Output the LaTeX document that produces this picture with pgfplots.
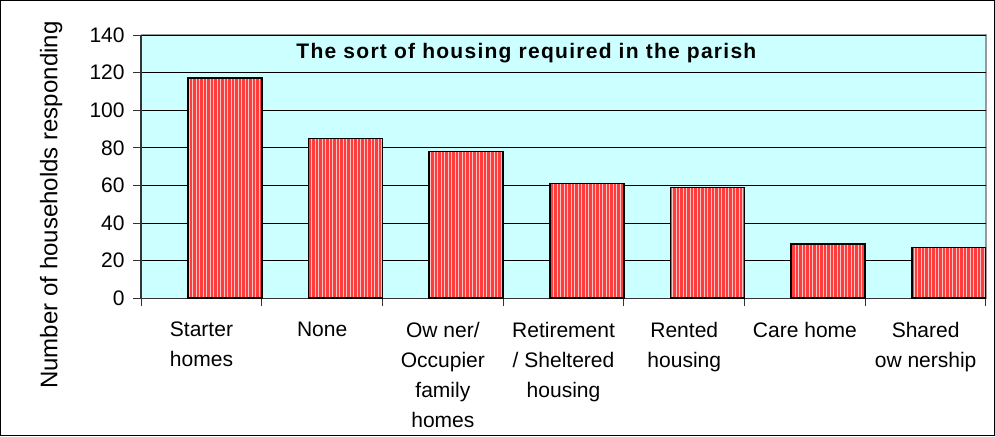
\documentclass[border=0pt]{standalone}
\usepackage{fontspec}
\setmainfont{Liberation Sans}
\usepackage{pgfplots}
\pgfplotsset{compat=1.18}
\usetikzlibrary{patterns.meta}
\definecolor{plotbg}{HTML}{CCFFFF}
\definecolor{barfill}{HTML}{FF3C3C}
\definecolor{stripe}{HTML}{FFC4C4}
\definecolor{frameg}{HTML}{999999}

\begin{document}
\begin{tikzpicture}
\begin{axis}[
    at={(0,0)}, anchor=south west,
    scale only axis, width=844pt, height=263pt,
    xmin=-0.5, xmax=6.5, ymin=0, ymax=140,
    axis lines=left,
    axis line style={-, line width=1.3pt, black!80},
    axis background/.style={fill=plotbg, draw=frameg, line width=1.2pt},
    ymajorgrids, grid style={black, line width=0.9pt},
    ytick={0,20,...,140},
    xtick={0,...,6},
    major x tick style={draw=none},
    minor xtick={-0.5,0.5,...,6.5},
    tick align=outside,
    major tick length=8pt, minor tick length=8pt,
    every tick/.style={black!80, line width=1pt},
    xticklabels={Starter\\homes, None, Ow ner/\\Occupier\\family\\homes,
      Retirement\\/ Sheltered\\housing, Rented\\housing, Care home,
      Shared\\ow nership},
    ticklabel style={font=\fontsize{21}{30}\selectfont},
    /pgf/number format/assume math mode=true,
    xticklabel style={align=center, yshift=-12pt},
    yticklabel style={xshift=-5pt},
    ylabel={Number of households responding},
    ylabel style={at={(axis description cs:-0.1066,0.354)}, anchor=center,
      font=\fontsize{24}{28}\selectfont},
  ]
  % bars sit against the right-hand edge of each category
  \addplot[ybar, bar width=0.614, bar shift=0.193, draw=black, line width=1.6pt,
    fill=barfill,
    postaction={pattern={Lines[angle=90, distance=3.5pt, line width=1pt]},
      pattern color=stripe}]
    coordinates {(0,117) (1,85) (2,78) (3,61) (4,59) (5,29) (6,27)};
  \node[font=\fontsize{21}{25}\selectfont\bfseries, anchor=center]
    at (rel axis cs:0.456,0.93)
    {\addfontfeatures{LetterSpace=6}The sort of housing required in the parish};
\end{axis}
\draw[black, line width=1pt] (-140.5pt,-137.5pt) rectangle (852.5pt,297.5pt);
\end{tikzpicture}
\end{document}
